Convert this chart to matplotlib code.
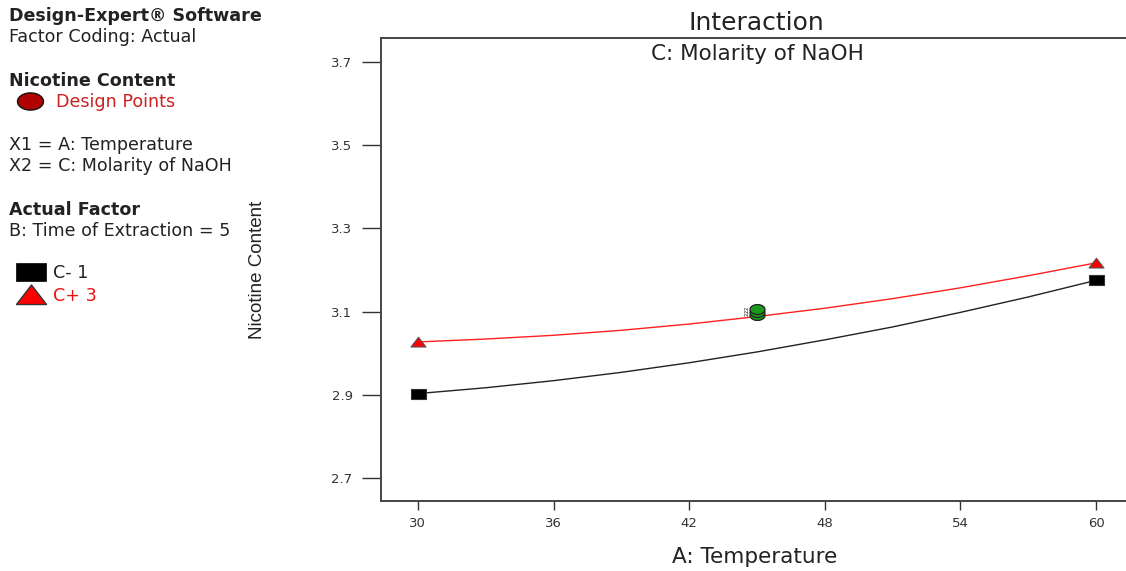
import numpy as np
import matplotlib
matplotlib.use("Agg")
import matplotlib.pyplot as plt
from matplotlib.path import Path

plt.rcParams['font.family'] = ['DejaVu Sans']

# ---- data ----
temperature = [30, 33, 36, 39, 42, 45, 48, 51, 54, 57, 60]
c_low = [2.903, 2.917, 2.934, 2.954, 2.977, 3.003, 3.032, 3.063, 3.098, 3.135, 3.175]
c_high = [3.027, 3.034, 3.043, 3.055, 3.070, 3.088, 3.108, 3.131, 3.157, 3.186, 3.217]
design_x = [45, 45, 45]
design_y = [3.091, 3.098, 3.106]
end_x = [30, 60]
low_end_y = [2.903, 3.175]
high_end_y = [3.027, 3.217]
xticks = [30, 36, 42, 48, 54, 60]
yticks = [2.7, 2.9, 3.1, 3.3, 3.5, 3.7]

W, H = 1126, 571
PX = 0.72  # points per pixel at dpi 100
fig = plt.figure(figsize=(W / 100, H / 100), dpi=100)

def fx(px):
    return px / W

def fy(py):
    return 1 - py / H

left, right, top, bottom = 380.6, 1134, 38, 501
ax = fig.add_axes([fx(left), fy(bottom), fx(right - left), fy(top) - fy(bottom)])
ax.set_xlim(28.35, 61.68)
ax.set_ylim(2.645, 3.757)

# custom markers
rect = Path([(-1, -0.62), (1, -0.62), (1, 0.62), (-1, 0.62), (-1, -0.62)],
            [Path.MOVETO, Path.LINETO, Path.LINETO, Path.LINETO, Path.CLOSEPOLY])
tri = Path([(-1, -0.6), (1, -0.6), (0, 0.7), (-1, -0.6)],
           [Path.MOVETO, Path.LINETO, Path.LINETO, Path.CLOSEPOLY])
th = np.linspace(0, 2 * np.pi, 60)
ell = Path(np.column_stack([np.cos(th), 0.66 * np.sin(th)]))

ax.plot(temperature, c_low, color='#222222', lw=1.0, zorder=2)
ax.plot(temperature, c_high, color='#ff2020', lw=1.0, zorder=2)
ax.plot(end_x, low_end_y, ls='none', marker=rect, ms=15 * PX, mfc='black', mec='#333333', mew=0.8, zorder=3)
ax.plot(end_x, high_end_y, ls='none', marker=tri, ms=15 * PX, mfc='#ff0000', mec='#555555', mew=0.8, zorder=3)
ax.plot(design_x, design_y, ls='none', marker=ell, ms=15 * PX, mfc='#1a9a1a', mec='#222222', mew=0.9, zorder=4)
for yy in [3.093, 3.100, 3.107]:
    ax.text(44.55, yy, '2', fontsize=3.5, rotation=90, ha='center', va='center', color='black')

ax.set_xticks(xticks)
ax.set_xticklabels([str(v) for v in xticks])
ax.set_yticks(yticks)
ax.set_yticklabels([f'{v:.1f}' for v in yticks])
ax.tick_params(axis='x', direction='out', length=9 * PX, width=1.0, color='#333333',
               labelsize=9.5, labelcolor='#333333', pad=5)
ax.tick_params(axis='y', direction='out', length=19 * PX, width=1.0, color='#333333',
               labelsize=9.5, labelcolor='#333333', pad=6.5)
for s in ax.spines.values():
    s.set_color('#444444')
    s.set_linewidth(1.4)

fig.text(fx(755), fy(557), 'A: Temperature', ha='center', va='center', fontsize=15.5, color='#222222')
fig.text(fx(258), fy(270), 'Nicotine Content', rotation=90, ha='center', va='center',
         fontsize=13.5, color='#222222', family=['Liberation Sans', 'DejaVu Sans'])
fig.text(fx(756), fy(23), 'Interaction', ha='center', va='center', fontsize=18, color='#222222')
ax.text(0.5, 1 - (54 - top) / (bottom - top), 'C: Molarity of NaOH', transform=ax.transAxes,
        ha='center', va='center', fontsize=15.5, color='#222222')

# ---- left info panel ----
dark = '#222222'
fs = 12.6
fig.text(fx(9), fy(16), 'Design-Expert® Software', fontsize=fs, fontweight='bold', color=dark, va='center')
fig.text(fx(9), fy(37), 'Factor Coding: Actual', fontsize=fs, color=dark, va='center')
fig.text(fx(9), fy(81), 'Nicotine Content', fontsize=fs, fontweight='bold', color=dark, va='center')
fig.text(fx(56), fy(102), 'Design Points', fontsize=fs, color='#cc2222', va='center')
fig.text(fx(9), fy(145), 'X1 = A: Temperature', fontsize=fs, color=dark, va='center')
fig.text(fx(9), fy(166), 'X2 = C: Molarity of NaOH', fontsize=fs, color=dark, va='center')
fig.text(fx(9), fy(210), 'Actual Factor', fontsize=fs, fontweight='bold', color=dark, va='center')
fig.text(fx(9), fy(231), 'B: Time of Extraction = 5', fontsize=fs, color=dark, va='center')
fig.text(fx(53), fy(273), 'C- 1', fontsize=fs, color=dark, va='center')
fig.text(fx(53), fy(296), 'C+ 3', fontsize=fs, color='#ee1111', va='center')

lg = fig.add_axes([0, 0, 1, 1], facecolor='none')
lg.set_xlim(0, W)
lg.set_ylim(H, 0)
lg.axis('off')
lg.plot([30], [101], ls='none', marker=ell, ms=26 * PX, mfc='#b00000', mec='#111111', mew=1.0)
lg.plot([31], [272], ls='none', marker=rect, ms=30 * PX, mfc='black', mec='black', mew=0.5)
lg.plot([31], [295], ls='none', marker=tri, ms=30 * PX, mfc='#ff0000', mec='#333333', mew=1.0)

fig.savefig('out.png', dpi=100)
